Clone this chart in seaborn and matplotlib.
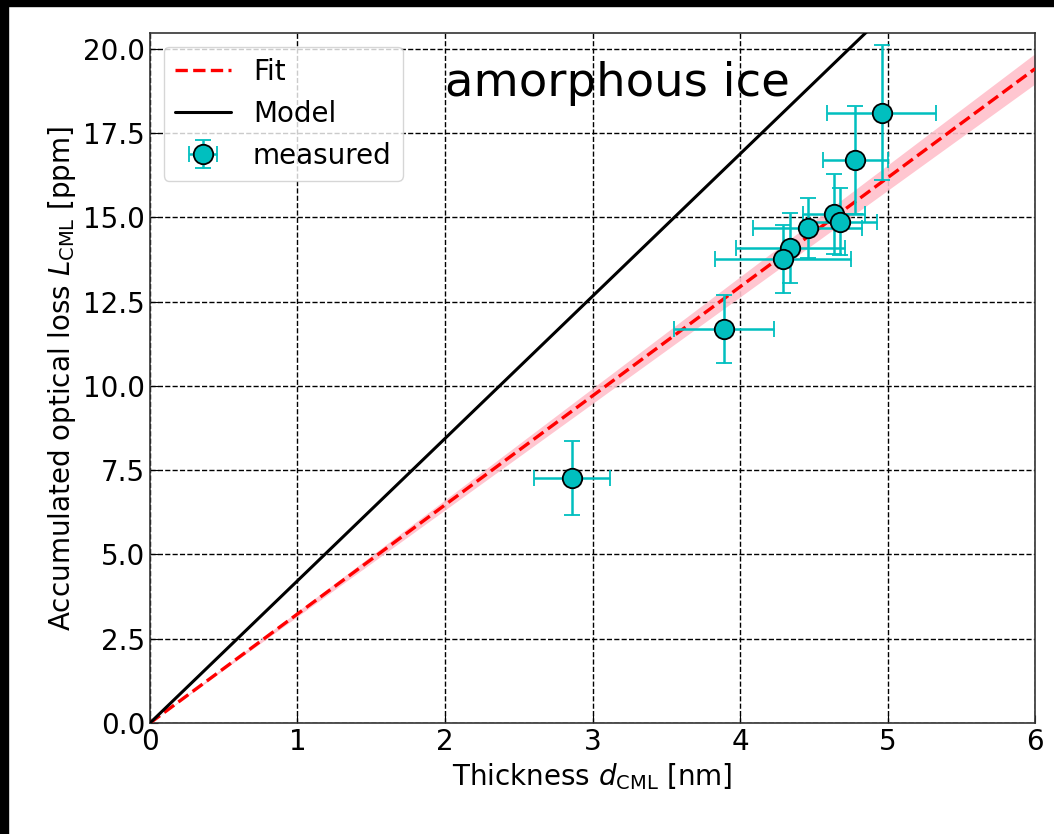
import numpy as np
import pandas as pd
import matplotlib
matplotlib.use("Agg")
import matplotlib.pyplot as plt
from matplotlib.patches import Rectangle
import seaborn as sns

# measured data
thickness = [4.96, 4.78, 4.64, 4.68, 4.46, 4.34, 4.29, 3.89, 2.86]
thickness_err = [0.37, 0.22, 0.21, 0.25, 0.37, 0.37, 0.46, 0.34, 0.26]
loss = [18.1, 16.7, 15.1, 14.87, 14.69, 14.09, 13.77, 11.69, 7.27]
loss_err = [2.0, 1.6, 1.2, 1.0, 0.9, 1.05, 1.0, 1.0, 1.1]

# line parameters
fit_slope = 3.235
fit_slope_err = 0.075
model_slope = 4.22
x_range = [0, 6]

sns.set_style("ticks")
plt.rcParams['font.family'] = ['DejaVu Sans']
plt.rcParams['text.color'] = 'black'
plt.rcParams['axes.labelcolor'] = 'black'
plt.rcParams['xtick.color'] = 'black'
plt.rcParams['ytick.color'] = 'black'

fig = plt.figure(figsize=(10.54, 8.34), dpi=100)
ax = fig.add_axes([0.1423, 0.1331, 0.982 - 0.1423, 0.9604 - 0.1331])

xs = np.linspace(x_range[0], x_range[1], 50)
line_df = pd.DataFrame({"x": xs, "fit": fit_slope * xs, "model": model_slope * xs})

ax.fill_between(xs, (fit_slope - fit_slope_err) * xs, (fit_slope + fit_slope_err) * xs,
                color="pink", alpha=0.9, lw=0, zorder=2)
sns.lineplot(data=line_df, x="x", y="fit", ax=ax, color="red", linestyle="--",
             linewidth=2.4, label="Fit", zorder=3)
sns.lineplot(data=line_df, x="x", y="model", ax=ax, color="black", linewidth=2.2,
             label="Model", zorder=3)
ax.errorbar(thickness, loss, xerr=thickness_err, yerr=loss_err, fmt="o", color="c",
            ecolor="c", elinewidth=1.8, capsize=6, capthick=1.8, markersize=14,
            markerfacecolor="c", markeredgecolor="black", markeredgewidth=1.3,
            label="measured", zorder=4)

ax.set_xlim(0, 6)
ax.set_ylim(0, 20.47)
ax.set_yticks(np.arange(0, 20.1, 2.5))
ax.set_xticks(np.arange(0, 7, 1))
ax.grid(True, color="black", linestyle="--", linewidth=1)
ax.tick_params(direction="in", labelsize=20, length=6, colors="black")
for s in ax.spines.values():
    s.set_linewidth(1.2)
    s.set_color("#333333")

ax.set_xlabel(r"Thickness $d_{\rm CML}$ [nm]", fontsize=20, color="black")
ax.set_ylabel(r"Accumulated optical loss $L_{\rm CML}$ [ppm]", fontsize=20, color="black")
ax.text(2.0, 18.6, "amorphous ice", fontsize=33.5, ha="left", va="baseline",
        color="black", zorder=5)

leg = ax.legend(loc="upper left", fontsize=20, framealpha=0.8)
for t in leg.get_texts():
    t.set_color("black")

# black strips at the top and left border
fig.patches.append(Rectangle((0, 1 - 6 / 834), 1, 6 / 834, transform=fig.transFigure,
                             color="black", zorder=10))
fig.patches.append(Rectangle((0, 0), 8 / 1054, 1, transform=fig.transFigure,
                             color="black", zorder=10))

fig.savefig("out.png", dpi=100, facecolor="white")
